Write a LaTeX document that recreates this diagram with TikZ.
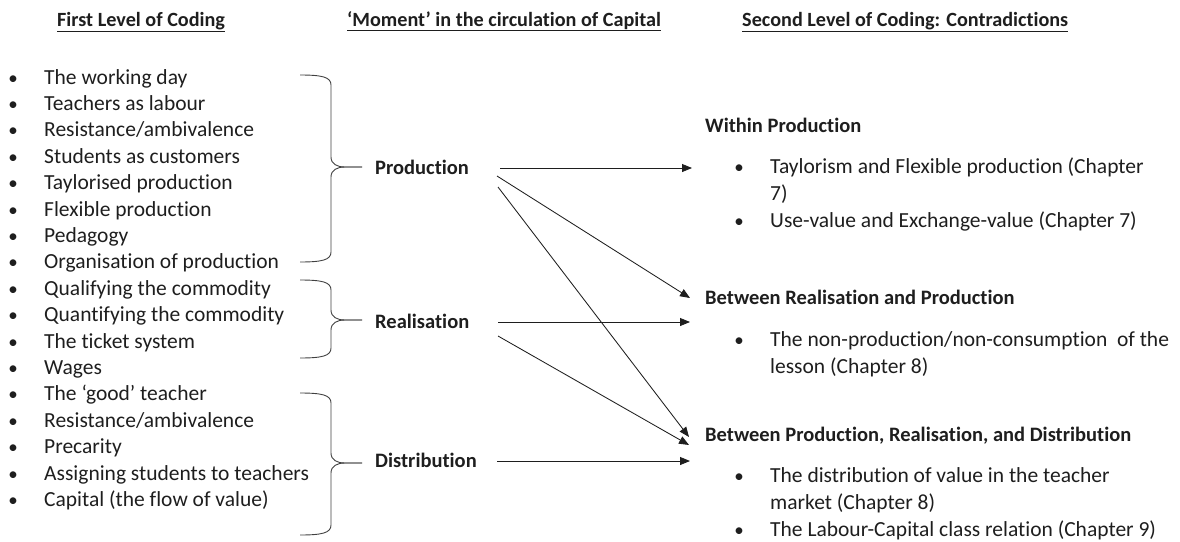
\documentclass[tikz,border=0pt]{standalone}
\usepackage{fontspec}
\setmainfont[Ligatures=NoCommon]{Carlito}
\usetikzlibrary{arrows.meta}
\definecolor{ink}{HTML}{1E1E1E}
\newcommand\wbrace[3]{%
  \draw[brc] (300,#1) .. controls +(22,0) and +(0,-8) .. (331,{#1+10}) -- (331,{#2-10})
     .. controls +(0,7) and +(-8,0) .. (345,#2) -- (362,#2);
  \draw[brc] (362,#2) -- (345,#2) .. controls +(-8,0) and +(0,-7) .. (331,{#2+10})
     -- (331,{#3-10}) .. controls +(0,8) and +(22,0) .. (300,#3);}
\begin{document}
\begin{tikzpicture}[x=1pt,y=-1pt,
  txt/.style={anchor=base west, inner sep=0pt, font=\fontsize{21.5}{25}\selectfont, text=ink},
  bul/.style={anchor=base, inner sep=0pt, font=\fontsize{19}{25}\selectfont, text=ink},
  hdr/.style={anchor=base west, inner sep=0pt, font=\fontsize{20.2}{24}\selectfont\bfseries, text=ink},
  mom/.style={anchor=base west, inner sep=0pt, font=\fontsize{20.5}{24}\selectfont\bfseries, text=ink},
  arr/.style={-{Triangle[length=10pt,width=8pt]}, line width=0.85pt, draw=ink},
  brc/.style={line width=0.9pt, draw=ink!85}]
\useasboundingbox (0,0) rectangle (1180,541);
% headers
\node[hdr] (h1) at (57,26) {\underline{First Level of Coding}};
\node[hdr] (h2) at (347,26) {\underline{‘Moment’ in the circulation of Capital}};
\node[hdr] (h3) at (742,26) {\underline{Second Level of Coding: Contradictions}};
% left list
\foreach \t [count=\i from 0] in {The working day,Teachers as labour,Resistance/ambivalence,Students as customers,Taylorised production,Flexible production,Pedagogy,Organisation of production,Qualifying the commodity,Quantifying the commodity,The ticket system,Wages,The ‘good’ teacher,Resistance/ambivalence,Precarity,Assigning students to teachers,Capital (the flow of value)}{
  \node[bul] (b\i) at (13,{84+26.4*\i}) {•};
  \node[txt] (it\i) at (44,{84+26.4*\i}) {\t};
}
% braces
\wbrace{75}{167}{262}
\wbrace{280}{320}{358}
\wbrace{393}{463}{535}
% moments
\node[mom] (prod) at (375,174) {Production};
\node[mom] (real) at (375,328) {Realisation};
\node[mom] (dist) at (375,467) {Distribution};
% right side
\node[mom] (wp) at (705,132) {Within Production};
\node[bul] (wb1) at (739,173) {•};
\node[txt] (w1) at (770,173) {Taylorism and Flexible production (Chapter};
\node[txt] (w1b) at (770,200) {7)};
\node[bul] (wb2) at (739,227) {•};
\node[txt] (w2) at (770,227) {Use-value and Exchange-value (Chapter 7)};
\node[mom] (rp) at (705,304) {Between Realisation and Production};
\node[bul] (rb1) at (739,346) {•};
\node[txt] (r1) at (770,346) {The non-production/non-consumption\ \ of the};
\node[txt] (r1b) at (770,373) {lesson (Chapter 8)};
\node[mom] (prd) at (705,441) {Between Production, Realisation, and Distribution};
\node[bul] (db1) at (739,482) {•};
\node[txt] (d1) at (770,482) {The distribution of value in the teacher};
\node[txt] (d1b) at (770,509) {market (Chapter 8)};
\node[bul] (db2) at (739,536) {•};
\node[txt] (d2) at (770,536) {The Labour-Capital class relation (Chapter 9)};
% connector ends
\coordinate (pS1) at (500,168);
\coordinate (pS2) at (497,176);
\coordinate (pS3) at (498,187);
\coordinate (rS1) at (498,322);
\coordinate (rS2) at (498,336);
\coordinate (dS1) at (497,461);
\coordinate (eW) at (692,168);
\coordinate (eR1) at (690,298);
\coordinate (eR2) at (690,322);
\coordinate (eD1) at (689,437);
\coordinate (eD2) at (689,445);
\coordinate (eD3) at (690,461);
\draw[arr] (pS1) -- (eW);
\draw[arr] (pS2) -- (eR1);
\draw[arr] (pS3) -- (eD1);
\draw[arr] (rS1) -- (eR2);
\draw[arr] (rS2) -- (eD2);
\draw[arr] (dS1) -- (eD3);
\end{tikzpicture}
\end{document}
